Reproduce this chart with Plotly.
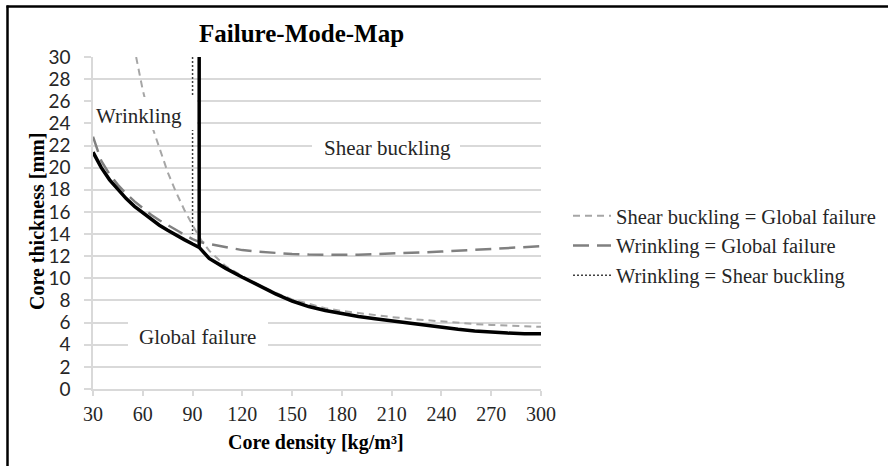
import plotly.graph_objects as go

# ---- data ----
boundary_density = [30, 35, 40, 45, 50, 55, 60, 65, 70, 75, 80, 85, 90, 94,
                    100, 110, 120, 130, 140, 150, 160, 170, 180, 190, 200,
                    210, 220, 230, 240, 250, 260, 270, 280, 290, 300]
boundary_thickness = [21.4, 20.0, 18.9, 18.0, 17.2, 16.5, 15.9, 15.3, 14.8, 14.35, 13.9, 13.5, 13.1, 12.8,
                      11.8, 10.9, 10.1, 9.35, 8.6, 7.95, 7.45, 7.1, 6.8, 6.55, 6.35,
                      6.15, 5.95, 5.75, 5.58, 5.4, 5.25, 5.12, 5.05, 5.0, 5.0]

transition_density = [94, 94]
transition_thickness = [12.8, 30]

shear_global_density = [56, 60, 65, 70, 75, 80, 85, 90, 95, 100, 110, 120, 130, 140, 150,
                        160, 170, 180, 190, 200, 210, 220, 230, 240, 250, 260, 270, 280, 290, 300]
shear_global_thickness = [30, 27, 24, 21.7, 19.6, 17.8, 16.2, 14.8, 13.5, 12.5, 11.1, 10.2, 9.4, 8.7, 8.1,
                          7.7, 7.3, 7.05, 6.85, 6.65, 6.5, 6.35, 6.22, 6.08, 5.97, 5.87, 5.79, 5.72, 5.67, 5.62]

wrinkling_global_density = [30, 35, 40, 45, 50, 55, 60, 65, 70, 75, 80, 85, 90, 94, 100, 110, 120, 130,
                            140, 150, 160, 170, 180, 190, 200, 210, 220, 230, 240, 250, 260, 270,
                            280, 290, 300]
wrinkling_global_thickness = [22.8, 20.6, 19.4, 18.45, 17.65, 16.95, 16.35, 15.75, 15.25, 14.8, 14.35, 13.95, 13.55, 13.3,
                              13.1, 12.8, 12.55, 12.4, 12.28, 12.2, 12.15, 12.12, 12.12, 12.14, 12.18,
                              12.22, 12.28, 12.35, 12.42, 12.5, 12.58, 12.66, 12.74, 12.82, 12.9]

wrinkling_shear_density = [90, 90]
wrinkling_shear_thickness = [30, 14.0]

x_ticks = [30, 60, 90, 120, 150, 180, 210, 240, 270, 300]
y_ticks = list(range(0, 31, 2))

series_names = ["Shear buckling = Global failure",
                "Wrinkling = Global failure",
                "Wrinkling = Shear buckling"]

# ---- layout geometry (pixels) ----
W, H = 888, 466
L, R, T, B = 93, 541, 57, 389
PW, PH = R - L, B - T


def px_x(p):
    return (p - L) / PW


def px_y(p):
    return (B - p) / PH


SERIF = "Liberation Serif, Times New Roman, serif"
SANS = "Lato, Calibri, sans-serif"

fig = go.Figure()

fig.add_trace(go.Scatter(
    x=shear_global_density, y=shear_global_thickness, mode="lines",
    name=series_names[0],
    line=dict(color="#a6a6a6", width=2, dash="7px,5px")))
fig.add_trace(go.Scatter(
    x=wrinkling_global_density, y=wrinkling_global_thickness, mode="lines",
    name=series_names[1],
    line=dict(color="#808080", width=2.5, dash="16px,8px")))
fig.add_trace(go.Scatter(
    x=wrinkling_shear_density, y=wrinkling_shear_thickness, mode="lines",
    name=series_names[2],
    line=dict(color="#404040", width=1.5, dash="2px,2px")))
fig.add_trace(go.Scatter(
    x=boundary_density, y=boundary_thickness, mode="lines", showlegend=False,
    line=dict(color="#000000", width=3.5)))
fig.add_trace(go.Scatter(
    x=transition_density, y=transition_thickness, mode="lines", showlegend=False,
    line=dict(color="#000000", width=3.5)))

shapes = [
    # white label boxes
    dict(type="rect", xref="paper", yref="paper", layer="above",
         x0=px_x(93), x1=px_x(197), y0=px_y(130), y1=px_y(97),
         fillcolor="white", line=dict(width=0)),
    dict(type="rect", xref="paper", yref="paper", layer="above",
         x0=px_x(312), x1=px_x(460), y0=px_y(160), y1=px_y(132),
         fillcolor="white", line=dict(width=0)),
    dict(type="rect", xref="paper", yref="paper", layer="above",
         x0=px_x(128), x1=px_x(268), y0=px_y(352), y1=px_y(316),
         fillcolor="white", line=dict(width=0)),
    # outer frame (left and top edges visible)
    dict(type="line", xref="paper", yref="paper", layer="above",
         x0=px_x(7.5), x1=px_x(7.5), y0=px_y(470), y1=px_y(5.5),
         line=dict(color="black", width=2.5)),
    dict(type="line", xref="paper", yref="paper", layer="above",
         x0=px_x(6.5), x1=px_x(900), y0=px_y(6.5), y1=px_y(6.5),
         line=dict(color="black", width=2.5)),
]

annotations = [
    dict(text="<b>Failure-Mode-Map</b>", x=px_x(301), y=px_y(33), xref="paper", yref="paper",
         showarrow=False, font=dict(family=SERIF, size=25, color="#000000"),
         xanchor="center", yanchor="middle"),
    dict(text="<b>Core density [kg/m³]</b>", x=px_x(316), y=px_y(442), xref="paper", yref="paper",
         showarrow=False, font=dict(family=SERIF, size=20, color="#000000"),
         xanchor="center", yanchor="middle"),
    dict(text="<b>Core thickness [mm]</b>", x=px_x(37), y=px_y(222), xref="paper", yref="paper",
         showarrow=False, textangle=-90, font=dict(family=SERIF, size=20, color="#000000"),
         xanchor="center", yanchor="middle"),
    dict(text="Wrinkling", x=px_x(139), y=px_y(116), xref="paper", yref="paper",
         showarrow=False, font=dict(family=SERIF, size=21, color="#262626"),
         xanchor="center", yanchor="middle"),
    dict(text="Shear buckling", x=px_x(387), y=px_y(148), xref="paper", yref="paper",
         showarrow=False, font=dict(family=SERIF, size=21, color="#262626"),
         xanchor="center", yanchor="middle"),
    dict(text="Global failure", x=px_x(197), y=px_y(337), xref="paper", yref="paper",
         showarrow=False, font=dict(family=SERIF, size=21, color="#262626"),
         xanchor="center", yanchor="middle"),
]

fig.update_layout(
    width=W, height=H,
    margin=dict(l=L, r=W - R, t=T, b=H - B, pad=0, autoexpand=False),
    paper_bgcolor="white", plot_bgcolor="white",
    showlegend=True,
    legend=dict(xref="container", yref="container",
                x=568 / W, y=1 - 196 / H, xanchor="left", yanchor="top",
                font=dict(family=SERIF, size=20.5, color="#262626"),
                itemwidth=38,
                bgcolor="rgba(0,0,0,0)", tracegroupgap=0),
    shapes=shapes,
    annotations=annotations,
)

fig.update_xaxes(range=[30, 300], tickvals=x_ticks, ticktext=[str(v) for v in x_ticks],
                 showgrid=False, zeroline=False, showline=True, linecolor="#d9d9d9", linewidth=1.5,
                 ticks="outside", ticklen=5, tickcolor="#d9d9d9", tickwidth=1.5,
                 ticklabelstandoff=1,
                 tickfont=dict(family=SERIF, size=20, color="#262626"))
fig.update_yaxes(range=[0, 30], tickvals=y_ticks, ticktext=[str(v) for v in y_ticks],
                 showgrid=True, gridcolor="#d9d9d9", gridwidth=1.5, zeroline=False,
                 showline=True, linecolor="#d9d9d9", linewidth=1.5,
                 ticks="outside", ticklen=7, tickcolor="#d9d9d9", tickwidth=1.5,
                 ticklabelstandoff=10,
                 tickfont=dict(family=SANS, size=19, color="#262626"))

fig.write_html("out.html", config={"displayModeBar": False},
               post_script="document.body.style.margin='0';")
